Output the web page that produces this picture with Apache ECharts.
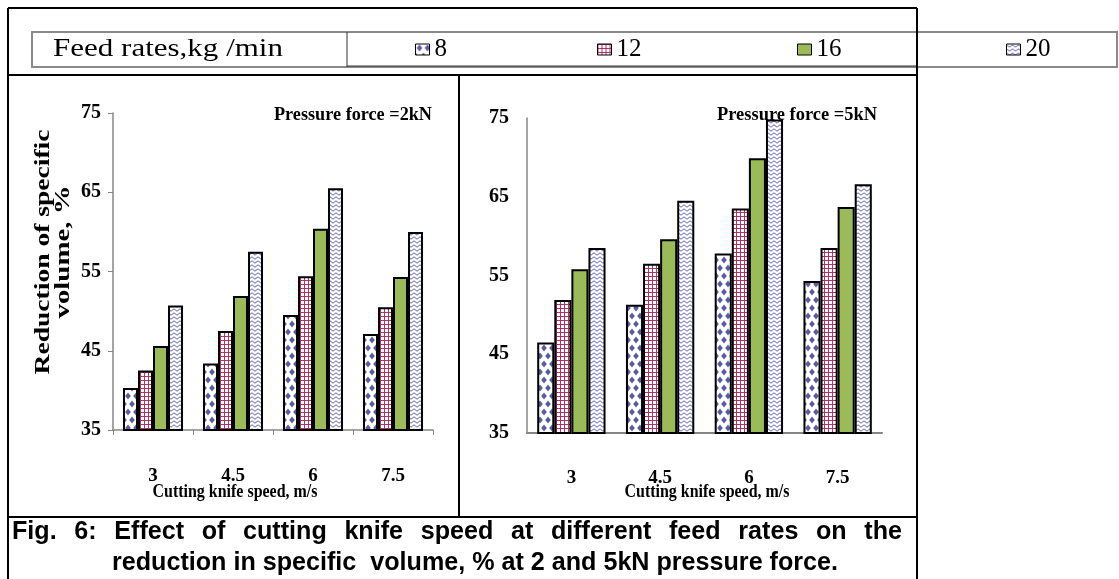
<!DOCTYPE html>
<html>
<head>
<meta charset="utf-8">
<script src="https://cdn.jsdelivr.net/npm/echarts@6/dist/echarts.min.js"></script>
<style>
html, body { margin: 0; padding: 0; background: #fff; }
#chart { width: 1119px; height: 579px; }
</style>
</head>
<body>
<div id="chart"></div>
<script>
// cutting knife speed, m/s
const speeds = ['3', '4.5', '6', '7.5'];
// feed rates, kg/min
const feedRates = ['8', '12', '16', '20'];
// y ticks
const yMin = 35, yMax = 75, yStep = 10;

// reduction of specific volume, % at 2 kN
const kn2_f8 = [40.3, 43.4, 49.5, 47.1];
const kn2_f12 = [42.5, 47.5, 54.4, 50.5];
const kn2_f16 = [45.6, 51.9, 60.4, 54.3];
const kn2_f20 = [50.7, 57.5, 65.5, 60.0];

// reduction of specific volume, % at 5 kN
const kn5_f8 = [46.5, 51.3, 57.8, 54.3];
const kn5_f12 = [51.9, 56.5, 63.5, 58.5];
const kn5_f16 = [55.8, 59.6, 69.9, 63.7];
const kn5_f20 = [58.5, 64.5, 74.8, 66.6];

const serif = 'Liberation Serif';
const sans = 'Liberation Sans';

// pattern fills, drawn on small tiles
const makeTile = (w, h, draw) => {
  const c = document.createElement('canvas');
  c.width = w; c.height = h;
  const ctx = c.getContext('2d');
  ctx.fillStyle = '#fff';
  ctx.fillRect(0, 0, w, h);
  draw(ctx);
  return { image: c, repeat: 'repeat' };
};
const diamondFill = makeTile(8, 16, ctx => {
  ctx.fillStyle = '#5c5ca4';
  [[4, 4], [0, 12], [8, 12]].forEach(([x, y]) => {
    ctx.beginPath();
    ctx.moveTo(x, y - 3.6); ctx.lineTo(x + 2.8, y);
    ctx.lineTo(x, y + 3.6); ctx.lineTo(x - 2.8, y);
    ctx.closePath(); ctx.fill();
  });
});
const gridFill = makeTile(4, 4, ctx => {
  ctx.fillStyle = '#b0306a';
  ctx.fillRect(0, 0, 4, 1);
  ctx.fillRect(0, 0, 1, 4);
});
const zigFill = makeTile(6, 4, ctx => {
  ctx.strokeStyle = '#6464b4';
  ctx.lineWidth = 1;
  ctx.beginPath();
  ctx.moveTo(0, 0.8); ctx.lineTo(3, 3.2); ctx.lineTo(6, 0.8);
  ctx.stroke();
});
const fills = [diamondFill, gridFill, '#9bbb59', zigFill];

// measure text so it can be stretched to the width seen in the figure
const mctx = document.createElement('canvas').getContext('2d');
const textW = (t, font) => { mctx.font = font; return mctx.measureText(t).width; };
const fitText = (t, font, x, y, w, extra) => Object.assign({
  type: 'text', x, y, z: 100,
  scaleX: w / textW(t, font),
  style: { text: t, font, fill: '#000', textAlign: 'center', textVerticalAlign: 'middle' }
}, extra || {});

const myChart = echarts.init(document.getElementById('chart'));

const series = [];
[[kn2_f8, kn2_f12, kn2_f16, kn2_f20], [kn5_f8, kn5_f12, kn5_f16, kn5_f20]].forEach((grp, gi) => {
  grp.forEach((data, i) => {
    series.push({
      name: feedRates[i],
      type: 'bar',
      xAxisIndex: gi,
      yAxisIndex: gi,
      data: data,
      barGap: '0%',
      barCategoryGap: gi ? '23%' : '25%',
      itemStyle: { color: fills[i], borderColor: '#000', borderWidth: 2 }
    });
  });
});

const legendX = [415, 597, 797, 1006];
const frame = [
  [8, 8, 917, 8], [8, 8, 8, 579], [917, 8, 917, 579],
  [8, 75, 917, 75], [459, 75, 459, 517], [8, 517, 917, 517]
].map(([x1, y1, x2, y2]) => ({
  type: 'line', z: 50, shape: { x1, y1, x2, y2 }, style: { stroke: '#000', lineWidth: 2 }
}));

// caption
const capFont = 'bold 25px ' + sans;
const cap1 = 'Fig. 6: Effect of cutting knife speed at different feed rates on the';
const cap2 = 'reduction in specific  volume, % at 2 and 5kN pressure force.';
const capScale = 726 / textW(cap2, capFont);
const words = cap1.split(' ');
const wordW = words.map(w => textW(w, capFont) * capScale);
const gap = (890 - wordW.reduce((a, b) => a + b, 0)) / (words.length - 1);
let cx = 12;
const capWords = words.map((w, i) => {
  const el = {
    type: 'text', x: cx, y: 532, z: 100, scaleX: capScale,
    style: { text: w, font: capFont, fill: '#000', textAlign: 'left', textVerticalAlign: 'middle' }
  };
  cx += wordW[i] + gap;
  return el;
});

const option = {
  animation: false,
  backgroundColor: '#fff',
  legend: feedRates.map((f, i) => ({
    data: [f],
    left: legendX[i],
    top: 37,
    padding: 0,
    icon: 'rect',
    itemWidth: 14,
    itemHeight: 11,
    selectedMode: false,
    itemStyle: { borderWidth: 1, borderColor: '#000' },
    textStyle: { fontFamily: serif, fontSize: 25, color: '#000' }
  })),
  grid: [
    { left: 113, top: 113, width: 320, height: 317 },
    { left: 527, top: 118, width: 355, height: 315 }
  ],
  xAxis: [0, 1].map(gi => ({
    type: 'category',
    gridIndex: gi,
    data: speeds,
    axisLine: { lineStyle: { color: '#868686', width: gi ? 2 : 1.5 } },
    axisTick: { show: gi === 0, length: 5, lineStyle: { color: '#868686' } },
    axisLabel: { margin: gi ? 36 : 37, fontFamily: serif, fontWeight: 'bold', fontSize: 19, color: '#000' }
  })),
  yAxis: [0, 1].map(gi => ({
    type: 'value',
    gridIndex: gi,
    min: yMin,
    max: yMax,
    interval: yStep,
    splitLine: { show: false },
    axisLine: { show: true, lineStyle: { color: '#868686', width: 1.5 } },
    axisTick: { show: gi === 0, length: 5, lineStyle: { color: '#868686' } },
    axisLabel: { margin: gi ? 18 : 12, fontFamily: serif, fontWeight: 'bold', fontSize: 20, color: '#000' }
  })),
  series: series,
  graphic: [
    {
      type: 'rect', z: 0,
      shape: { x: 32, y: 32, width: 1085, height: 35 },
      style: { fill: 'none', stroke: '#8a8a8a', lineWidth: 2 }
    },
    { type: 'line', z: 1, shape: { x1: 347, y1: 32, x2: 347, y2: 67 }, style: { stroke: '#333', lineWidth: 1 } },
    { type: 'line', z: 1, shape: { x1: 347, y1: 66, x2: 917, y2: 66 }, style: { stroke: '#333', lineWidth: 1 } },
    ...frame,
    fitText('Feed rates,kg /min', '25px ' + serif, 168, 49, 230),
    fitText('Pressure force =2kN', 'bold 19px ' + serif, 353, 115, 158),
    fitText('Pressure force =5kN', 'bold 19px ' + serif, 797, 115, 160),
    fitText('Reduction of specific', 'bold 20px ' + serif, 44, 252, 245, { rotation: Math.PI / 2 }),
    fitText('volume, %', 'bold 20px ' + serif, 64, 252, 133, { rotation: Math.PI / 2 }),
    fitText('Cutting knife speed, m/s', 'bold 18px ' + serif, 235, 492, 165),
    fitText('Cutting knife speed, m/s', 'bold 18px ' + serif, 707, 492, 165),
    ...capWords,
    {
      type: 'text', x: 112, y: 563, z: 100, scaleX: capScale,
      style: { text: cap2, font: capFont, fill: '#000', textAlign: 'left', textVerticalAlign: 'middle' }
    }
  ]
};

myChart.setOption(option);
</script>
</body>
</html>
